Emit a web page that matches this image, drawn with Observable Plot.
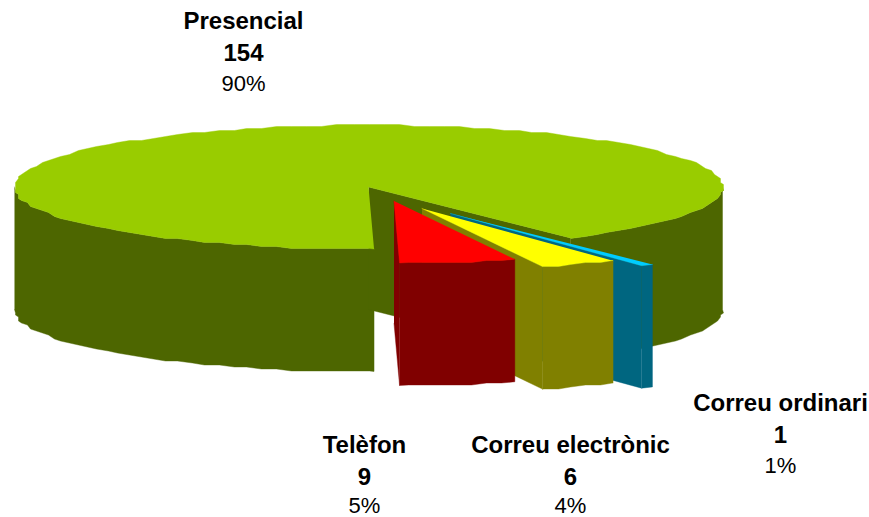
<!DOCTYPE html>
<html>
<head>
<meta charset="utf-8">
<style>html,body{margin:0;padding:0;background:#fff}svg{display:block}</style>
<script src="https://cdn.jsdelivr.net/npm/d3@7"></script>
<script src="https://cdn.jsdelivr.net/npm/@observablehq/plot@0.6"></script>
</head>
<body>
<script>
// Data
const categories = ["Telèfon", "Correu electrònic", "Correu ordinari", "Presencial"];
const values = [9, 6, 1, 154];
const percents = ["5%", "4%", "1%", "90%"];

// Styles
const topColors = ["#ff0000", "#ffff00", "#00ccff", "#99cc00"];
const wallColors = ["#800000", "#808000", "#006680", "#4d6600"];

// Layout of the projected pie
const W = 869, H = 517;
const cx = 368, cy = 186.5, rx = 354, ry = 62, depth = 122.5, startDeg = 0.9;
const explode = [[25.5, 14], [53.5, 21.5], [82, 26.5], [0, 0]];
const labelAt = [[364, 445], [570, 445], [780, 403], [243, 21]];
const lineGap = 31;

const total = d3.sum(values);
const rad = d => d * Math.PI / 180;
let acc = startDeg;
const slices = categories.map((name, i) => {
  const a0 = acc, a1 = acc + values[i] / total * 360;
  acc = a1;
  return {name, i, a0, a1, dx: explode[i][0], dy: explode[i][1]};
});

// Arc points at fixed angles, so rim and wall share vertices; inner vertices
// snap to a coarse grid, which gives the stepped rim of the reference
const STEP = 2.5;
const arc = (s, from, to, lift = 0) => {
  const lo = Math.min(from, to), hi = Math.max(from, to);
  const inner = d3.range(Math.ceil(lo / STEP + 1e-6), Math.ceil(hi / STEP - 1e-6)).map(k => k * STEP);
  const angles = [lo, ...inner, hi];
  const pts = angles.map((d, k) => {
    const a = rad(d);
    let x = cx + s.dx + rx * Math.sin(a), y = cy + s.dy + ry * Math.cos(a);
    if (k > 0 && k < angles.length - 1) { x = Math.round(x / 3) * 3; y = Math.round(y / 2) * 2; }
    return [x, y + lift];
  });
  return from <= to ? pts : pts.reverse();
};
const apex = (s, lift = 0) => [cx + s.dx, cy + s.dy + lift];

const rows = [];
let pid = 0;
const poly = (pts, color) => { pid++; pts.forEach(p => rows.push({id: pid, x: p[0], y: p[1], color})); };
const band = (s, a0, a1, color) =>
  poly([...arc(s, a0, a1), ...arc(s, a1, a0, depth)], color);
const cut = (s, a, color) => {
  const e = arc(s, a, a)[0];
  poly([apex(s), e, [e[0], e[1] + depth], apex(s, depth)], color);
};

// Presencial: visible outer wall, cut wall, top
const P = slices[3];
band(P, P.a0, 90, wallColors[3]);
band(P, 270, P.a1, wallColors[3]);
cut(P, P.a0, wallColors[3]);
poly([apex(P), ...arc(P, P.a0, P.a1)], topColors[3]);

// Exploded slices, back to front
[2, 1, 0].forEach(i => {
  const s = slices[i];
  cut(s, s.a0, wallColors[i]);
  band(s, s.a0, s.a1, wallColors[i]);
  poly([apex(s), ...arc(s, s.a0, s.a1)], topColors[i]);
});

const boldLabels = [], plainLabels = [];
categories.forEach((name, i) => {
  const [x, y] = labelAt[i];
  boldLabels.push({x, y, t: name}, {x, y: y + lineGap + 1, t: String(values[i])});
  plainLabels.push({x, y: Math.min(y + 2 * lineGap, 505), t: percents[i]});
});

const chart = Plot.plot({
  width: W, height: H, margin: 0,
  x: {domain: [0, W], range: [0, W], axis: null},
  y: {domain: [0, H], range: [0, H], axis: null},
  color: {type: "identity"},
  style: {background: "#fff", fontFamily: "'Liberation Sans', Arial, sans-serif"},
  marks: [
    Plot.line(rows, {x: "x", y: "y", z: "id", fill: "color", stroke: "color", strokeWidth: 0.4, curve: "linear"}),
    Plot.text(boldLabels, {x: "x", y: "y", text: "t", fontSize: 24, fontWeight: "bold", fill: "#000", textAnchor: "middle", lineAnchor: "middle"}),
    Plot.text(plainLabels, {x: "x", y: "y", text: "t", fontSize: 22, fill: "#000", textAnchor: "middle", lineAnchor: "middle"})
  ]
});
document.body.appendChild(chart);
</script>
</body>
</html>
